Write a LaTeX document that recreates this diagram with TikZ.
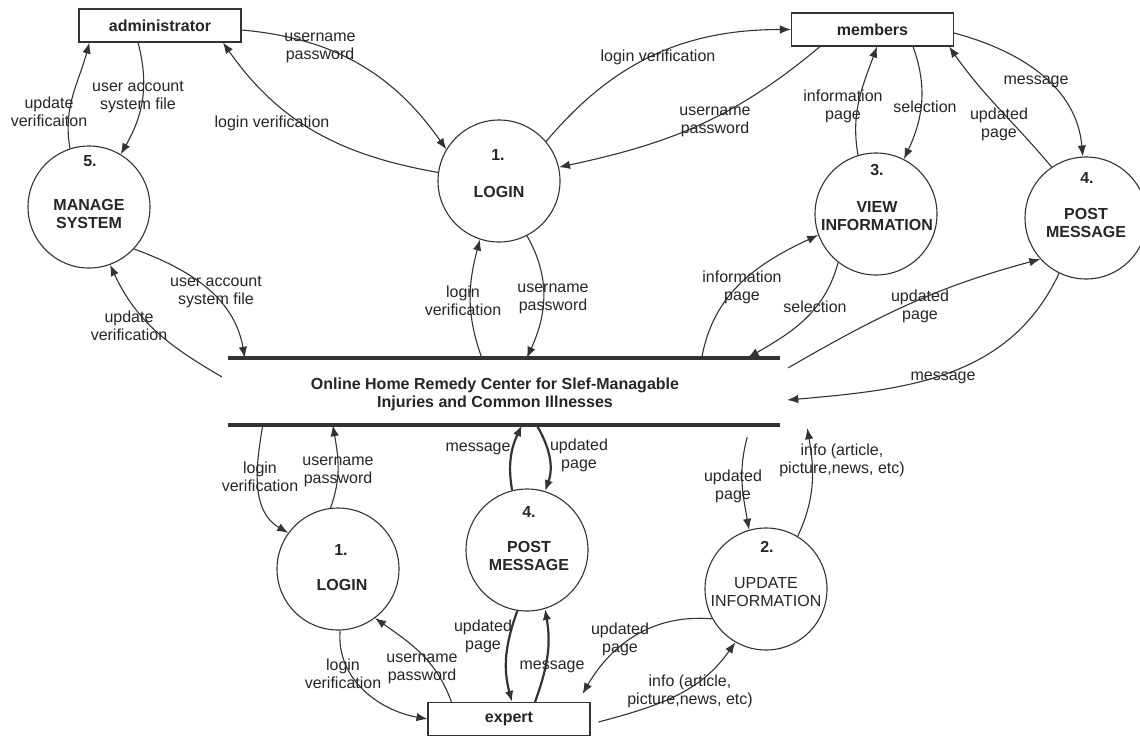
\documentclass[tikz,border=0pt]{standalone}
\usepackage{fontspec}
\setmainfont{Liberation Sans}
\usetikzlibrary{arrows.meta,calc}
\definecolor{ink}{HTML}{333333}
\definecolor{txt}{HTML}{262626}
\begin{document}
\begin{tikzpicture}[x=1pt,y=-1pt,
 flow/.style={draw=ink, line width=1.1pt, -{Latex[length=11pt,width=8.5pt]}},
 thickflow/.style={flow, line width=2.2pt},
 proc/.style={circle, draw=ink, line width=1.1pt, minimum size=122pt, inner sep=0pt},
 ent/.style={draw=ink, line width=1.1pt, minimum width=162pt, minimum height=33pt, inner sep=0pt, font=\bfseries\fontsize{16}{18.5}\selectfont, text=txt},
 lbl/.style={font=\fontsize{16}{18}\selectfont, text=txt, align=center, inner sep=0pt},
 ptxt/.style={font=\bfseries\fontsize{16}{18}\selectfont, text=txt, align=center, inner sep=0pt},
 rtxt/.style={font=\fontsize{16}{18}\selectfont, text=txt, align=center, inner sep=0pt}
]
\useasboundingbox (0,0) rectangle (1140,737);
\fill[white] (0,0) rectangle (1140,737);

% external entities
\node[ent] (admin) at (160,25.5) {administrator};
\node[ent] (members) at (872.5,29.5) {members};
\node[ent] (expert) at (509,719) {expert};

% processes
\node[proc] (m5) at (89,207) {};
\node[proc] (l1) at (499,181) {};
\node[proc] (v3) at (876,214) {};
\node[proc] (p4) at (1086,218) {};
\node[proc] (l1b) at (338,569) {};
\node[proc] (p4b) at (527,550) {};
\node[proc] (u2) at (766,589) {};

\node[ptxt] (m5n) at (90,161) {5.};
\node[ptxt] (m5t) at (89,214) {MANAGE\\SYSTEM};
\node[ptxt] (l1n) at (498,155) {1.};
\node[ptxt] (l1t) at (499,192) {LOGIN};
\node[ptxt] (v3n) at (877,170) {3.};
\node[ptxt] (v3t) at (877,216) {VIEW\\INFORMATION};
\node[ptxt] (p4n) at (1087,178) {4.};
\node[ptxt] (p4t) at (1086,222.5) {POST\\MESSAGE};
\node[ptxt] (l1bn) at (341,550) {1.};
\node[ptxt] (l1bt) at (342,585) {LOGIN};
\node[ptxt] (p4bn) at (529,512) {4.};
\node[ptxt] (p4bt) at (529,556) {POST\\MESSAGE};
\node[ptxt] (u2n) at (767,547) {2.};
\node[rtxt] (u2t) at (766,592) {UPDATE\\INFORMATION};

% data store
\node[minimum width=552pt, minimum height=67pt, inner sep=0pt] (store) at (504,391.5) {};
\draw[draw=ink, line width=3.5pt] (store.north west) -- (store.north east);
\draw[draw=ink, line width=3.5pt] (store.south west) -- (store.south east);
\node[ptxt] (storetext) at (495,394) {Online Home Remedy Center for Slef-Managable\\Injuries and Common Illnesses};

% flows
\draw[flow] ([yshift=-4.5pt]admin.east) to[out=-5,in=125] (l1.149);
\draw[flow] (l1.172) to[out=170,in=-55] ([xshift=63pt]admin.south);
\draw[flow] (l1.40) to[out=50,in=180] (members.west);
\draw[flow] ([xshift=-52.5pt]members.south) to[out=-140,in=12] (l1.13);
\draw[flow] (v3.107) to[out=100,in=-110] ([xshift=4.5pt]members.south);
\draw[flow] ([xshift=40.5pt]members.south) to[out=-70,in=65] (v3.63);
\draw[flow] (p4.124) to[out=130,in=-55] ([xshift=-5pt]members.south east);
\draw[flow] ([yshift=-3.5pt]members.east) to[out=-15,in=95] (p4.93);
\draw[flow] (m5.108) to[out=100,in=-105] ([xshift=11pt]admin.south west);
\draw[flow] ([xshift=-22pt]admin.south) to[out=-75,in=60] (m5.59);
\draw[flow] (m5.-43) to[out=-20,in=100] ([xshift=17pt]store.north west);
\draw[flow] ([xshift=-6pt,yshift=-19pt]store.north west) to[out=150,in=-65] (m5.-70);
\draw[flow] ([xshift=254pt]store.north west) to[out=110,in=-105] (l1.-108);
\draw[flow] (l1.-63) to[out=-60,in=65] ([xshift=299pt]store.north west);
\draw[flow] ([xshift=474pt]store.north west) to[out=80,in=-155] (v3.-160);
\draw[flow] (v3.-128) to[out=-105,in=30] ([xshift=520pt]store.north west);
\draw[flow] ([xshift=8pt,yshift=-10pt]store.north east) to[out=30,in=-165] (p4.-138);
\draw[flow] (p4.-116) to[out=-115,in=5] ([xshift=7pt,yshift=-8.5pt]store.east);
\draw[flow] ([xshift=35pt]store.south west) to[out=-100,in=150] (l1b.144);
\draw[flow] (l1b.97) to[out=70,in=-80] ([xshift=105pt]store.south west);
\draw[thickflow] (p4b.104) to[out=100,in=-115] ([xshift=294pt]store.south west);
\draw[thickflow] ([xshift=309pt]store.south west) to[out=-60,in=70] (p4b.73);
\draw[flow] ([xshift=-33pt,yshift=-12pt]store.south east) to[out=-105,in=100] (u2.106);
\draw[flow] (u2.59) to[out=65,in=-80] ([xshift=27pt,yshift=-3pt]store.south east);
\draw[flow] (u2.-151) to[out=175,in=60] ([xshift=-8pt,yshift=8pt]expert.north east);
\draw[flow] ([xshift=8pt,yshift=-3pt]expert.east) to[out=15,in=-125] (u2.-120);
\draw[flow] (l1b.-88) to[out=-95,in=170] (expert.west);
\draw[flow] ([xshift=24pt]expert.north west) to[out=110,in=-35] (l1b.-53);
\draw[thickflow] (p4b.-99) to[out=-110,in=105] ([xshift=3pt]expert.north);
\draw[thickflow] ([xshift=26pt]expert.north) to[out=70,in=-80] (p4b.-73);

% labels
\node[lbl] (t1) at (320,48) {username\\password};
\node[lbl] (t2) at (272,123) {login verification};
\node[lbl] (t3) at (658,57) {login verification};
\node[lbl] (t4) at (715,122) {username\\password};
\node[lbl] (t5) at (843,106) {information\\page};
\node[lbl] (t6) at (925,107) {selection};
\node[lbl] (t7) at (999,124) {updated\\page};
\node[lbl] (t8) at (1036,82) {message};
\node[lbl] (t9) at (49,112) {update\\verificaiton};
\node[lbl] (t10) at (138,97) {user account\\system file};
\node[lbl] (t11) at (216,292) {user account\\system file};
\node[lbl] (t12) at (129,326) {update\\verification};
\node[lbl] (t13) at (463,301) {login\\verification};
\node[lbl] (t14) at (553,299) {username\\password};
\node[lbl] (t15) at (742,287) {information\\page};
\node[lbl] (t16) at (815,307) {selection};
\node[lbl] (t17) at (920,306) {updated\\page};
\node[lbl] (t18) at (943,378) {message};
\node[lbl] (t19) at (260,477) {login\\verification};
\node[lbl] (t20) at (338,472) {username\\password};
\node[lbl] (t21) at (478,449) {message};
\node[lbl] (t22) at (579,455) {updated\\page};
\node[lbl] (t23) at (733,486) {updated\\page};
\node[lbl] (t24) at (842,460) {info (article,\\picture,news, etc)};
\node[lbl] (t25) at (620,639) {updated\\page};
\node[lbl] (t26) at (690,691) {info (article,\\picture,news, etc)};
\node[lbl] (t27) at (343,674) {login\\verification};
\node[lbl] (t28) at (422,669) {username\\password};
\node[lbl] (t29) at (483,636) {updated\\page};
\node[lbl] (t30) at (552,667) {message};
\end{tikzpicture}
\end{document}
